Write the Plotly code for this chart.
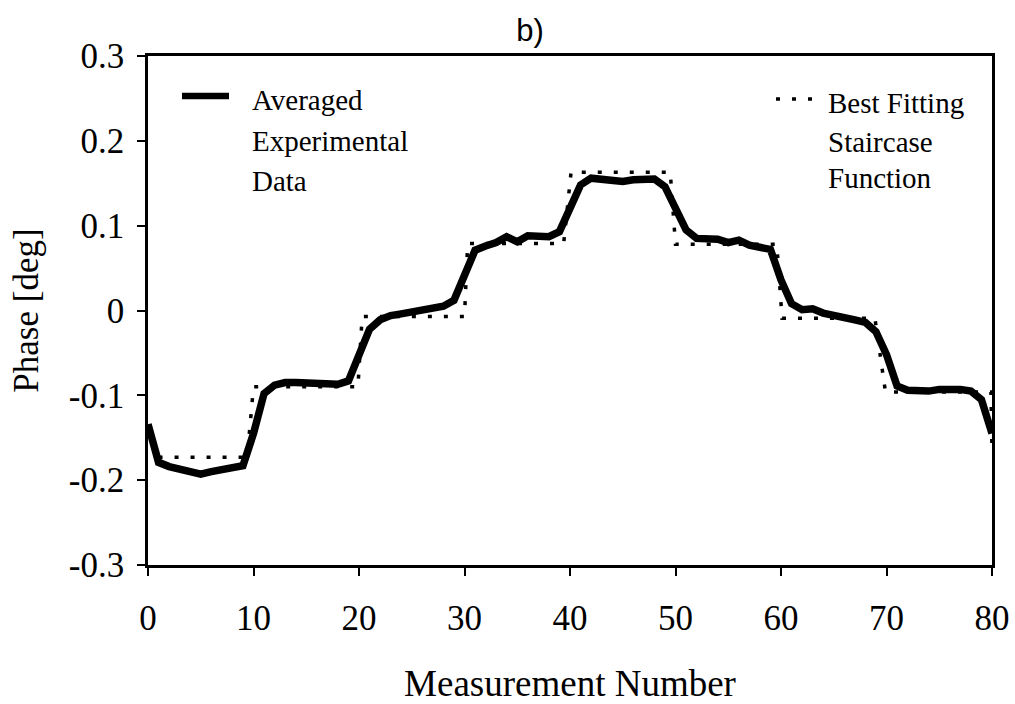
import plotly.graph_objects as go

# ---- data ----
meas_x = list(range(0, 81))
phase_avg = [
    -0.134, -0.179, -0.184, -0.187, -0.190, -0.193, -0.190, -0.188, -0.186, -0.183,
    -0.145, -0.098, -0.088, -0.085, -0.085, -0.086, -0.087, -0.088, -0.087, -0.083,
    -0.050, -0.022, -0.011, -0.006, -0.004, -0.002, 0.001, 0.004, 0.005, 0.012,
    0.043, 0.071, 0.076, 0.080, 0.087, 0.081, 0.088, 0.088, 0.087, 0.093,
    0.122, 0.148, 0.156, 0.155, 0.154, 0.152, 0.154, 0.155, 0.155, 0.146,
    0.118, 0.095, 0.085, 0.084, 0.084, 0.080, 0.083, 0.077, 0.074, 0.072,
    0.036, 0.008, 0.001, 0.002, -0.003, -0.005, -0.008, -0.011, -0.014, -0.025,
    -0.052, -0.089, -0.094, -0.095, -0.095, -0.093, -0.092, -0.093, -0.095, -0.105,
    -0.145,
]

stair_x = [1, 9.4, 10.0, 19.9, 20.3, 30.0, 30.3, 39.4, 40.1, 49.5, 50.0, 59.6, 60.1, 68.9, 69.9, 79.9, 80.0]
stair_y = [-0.173, -0.173, -0.090, -0.090, -0.007, -0.007, 0.079, 0.079, 0.163, 0.163,
           0.078, 0.078, -0.009, -0.009, -0.096, -0.096, -0.165]

y_tick_vals = [-0.3, -0.2, -0.1, 0.0, 0.1, 0.2, 0.3]
y_tick_text = ["-0.3", "-0.2", "-0.1", "0", "0.1", "0.2", "0.3"]
x_tick_vals = [0, 10, 20, 30, 40, 50, 60, 70, 80]

legend_left = ["Averaged", "Experimental", "Data"]
legend_right = ["Best Fitting", "Staircase", "Function"]

SERIF = "Liberation Serif, Times New Roman, serif"

fig = go.Figure()
fig.add_trace(go.Scatter(x=stair_x, y=stair_y, mode="lines", name="Best Fitting Staircase Function",
                         line=dict(color="black", width=3.5, dash="4px,12px"), showlegend=False))
fig.add_trace(go.Scatter(x=meas_x, y=phase_avg, mode="lines", name="Averaged Experimental Data",
                         line=dict(color="black", width=7.5), showlegend=False))

W, H = 1015, 704
L, R, T, B = 148, 23, 56, 139
pw, ph = W - L - R, H - T - B

def px(xp):
    return (xp - L) / pw

def py(yp):
    return (H - B - yp) / ph

shapes = [
    dict(type="line", xref="paper", yref="paper", x0=px(182), x1=px(229), y0=py(96), y1=py(96),
         line=dict(color="black", width=6.5)),
    dict(type="line", xref="paper", yref="paper", x0=px(776), x1=px(814), y0=py(99), y1=py(99),
         line=dict(color="black", width=3.5, dash="4px,12px")),
]

annotations = []
for i, t in enumerate(legend_left):
    annotations.append(dict(text=t, xref="paper", yref="paper", x=px(250), y=py([100, 141, 181][i]),
                            xanchor="left", yanchor="middle", showarrow=False,
                            font=dict(family=SERIF, size=29, color="black")))
for i, t in enumerate(legend_right):
    annotations.append(dict(text=t, xref="paper", yref="paper", x=px(826), y=py([103, 142, 178][i]),
                            xanchor="left", yanchor="middle", showarrow=False,
                            font=dict(family=SERIF, size=29, color="black")))

fig.update_layout(
    width=W, height=H,
    margin=dict(l=L, r=R, t=T, b=B, autoexpand=False),
    paper_bgcolor="white", plot_bgcolor="white",
    title=dict(text="b)", x=530 / W, xref="container", y=1 - 30 / H, yref="container",
               xanchor="center", yanchor="middle",
               font=dict(family="Liberation Sans Narrow, Liberation Sans, Arial, sans-serif", size=31, color="black")),
    shapes=shapes,
    annotations=annotations,
    xaxis=dict(range=[0, 80], tickvals=x_tick_vals, showgrid=False, zeroline=False, automargin=False,
               showline=True, linecolor="black", linewidth=2.5, mirror=True,
               ticks="outside", ticklen=8, tickwidth=2, tickcolor="black", ticklabelstandoff=12,
               tickfont=dict(family=SERIF, size=35, color="black"),
               title=dict(text="Measurement Number", font=dict(family=SERIF, size=37, color="black"), standoff=40)),
    yaxis=dict(range=[-0.3, 0.3], tickvals=y_tick_vals, ticktext=y_tick_text, showgrid=False, zeroline=False,
               automargin=False,
               showline=True, linecolor="black", linewidth=2.5, mirror=True,
               ticks="outside", ticklen=8, tickwidth=2, tickcolor="black", ticklabelstandoff=6,
               tickfont=dict(family=SERIF, size=35, color="black"),
               title=dict(text="Phase [deg]", font=dict(family=SERIF, size=35, color="black"), standoff=20)),
)

fig.write_html("out.html")
